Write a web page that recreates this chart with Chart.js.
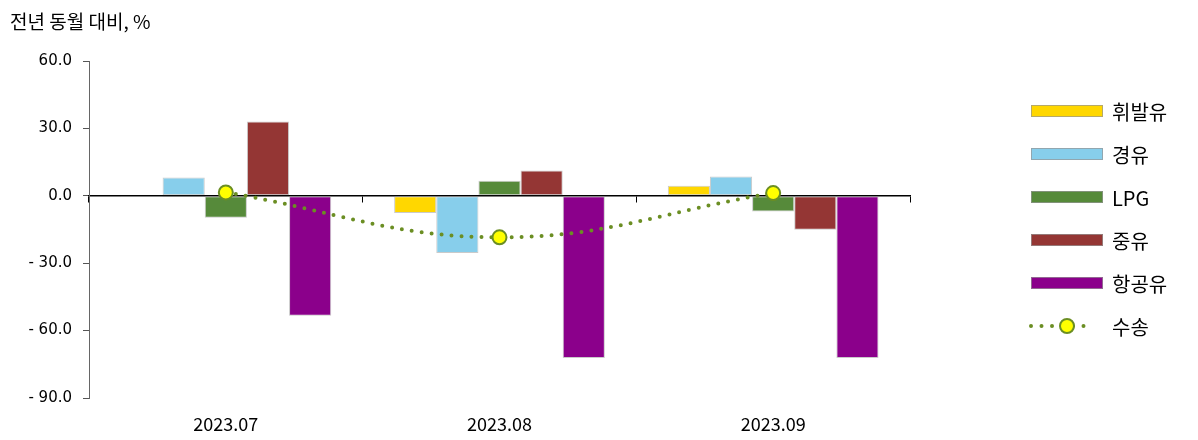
<!DOCTYPE html>
<html>
<head>
<meta charset="utf-8">
<script src="https://cdn.jsdelivr.net/npm/chart.js@4"></script>
<style>
  html, body { margin: 0; padding: 0; background: #fff; }
  #wrap { position: relative; width: 1198px; height: 440px; }
</style>
</head>
<body>
<div id="wrap"><canvas id="chart" width="1198" height="440"></canvas></div>
<script>
  const categories = ['2023.07', '2023.08', '2023.09'];
  const gasoline = [-0.5, -7.7, 4.5];
  const diesel = [8.2, -25.5, 8.6];
  const lpg = [-9.8, 6.7, -7.0];
  const heavyOil = [33.1, 11.3, -15.1];
  const jetFuel = [-53.4, -72.2, -72.2];
  const transport = [1.5, -18.5, 1.2];
  const yTicks = [60, 30, 0, -30, -60, -90];

  const titleText = '전년 동월 대비, %';
  const fontFamily = '"Noto Sans CJK KR", "Noto Sans", sans-serif';
  const numFont = '"DejaVu Sans", sans-serif';
  const lineColor = '#6b8e23';

  function barSet(label, data, color) {
    return {
      type: 'bar',
      label,
      data,
      backgroundColor: color,
      borderColor: 'rgba(150, 150, 150, 0.5)',
      borderWidth: 1,
      borderSkipped: false,
      categoryPercentage: 0.77,
      barPercentage: 1,
      order: 1,
    };
  }

  const datasets = [
    barSet('휘발유', gasoline, '#ffd700'),
    barSet('경유', diesel, '#87ceeb'),
    barSet('LPG', lpg, '#568a3a'),
    barSet('중유', heavyOil, '#943634'),
    barSet('항공유', jetFuel, '#8b008b'),
    {
      type: 'line',
      label: '수송',
      data: transport,
      borderColor: lineColor,
      borderWidth: 4,
      borderDash: [0, 10],
      borderCapStyle: 'round',
      tension: 0.4,
      pointRadius: 7,
      pointBackgroundColor: '#ffff00',
      pointBorderColor: lineColor,
      pointBorderWidth: 2,
      order: 0,
    },
  ];

  // title and legend drawn straight onto the canvas
  const sidePlugin = {
    id: 'sideLegend',
    afterDraw(chart) {
      const ctx = chart.ctx;
      ctx.save();
      ctx.fillStyle = '#000';
      ctx.font = '19px ' + fontFamily;
      ctx.textBaseline = 'middle';
      ctx.textAlign = 'left';
      ctx.fillText(titleText, 10, 22);

      chart.data.datasets.forEach((ds, i) => {
        const cy = 111 + i * 43;
        if (ds.type === 'bar') {
          ctx.fillStyle = ds.backgroundColor;
          ctx.fillRect(1031, cy - 6, 72, 12);
          ctx.strokeStyle = 'rgba(150, 150, 150, 0.7)';
          ctx.lineWidth = 1;
          ctx.strokeRect(1031.5, cy - 5.5, 71, 11);
        } else {
          ctx.strokeStyle = ds.borderColor;
          ctx.lineWidth = ds.borderWidth;
          ctx.lineCap = 'round';
          ctx.setLineDash([0, 10.5]);
          ctx.beginPath();
          ctx.moveTo(1031, cy);
          ctx.lineTo(1094, cy);
          ctx.stroke();
          ctx.setLineDash([]);
          ctx.beginPath();
          ctx.arc(1067, cy, 7, 0, Math.PI * 2);
          ctx.fillStyle = ds.pointBackgroundColor;
          ctx.fill();
          ctx.lineWidth = 2;
          ctx.stroke();
        }
        ctx.fillStyle = '#000';
        ctx.font = '20px ' + fontFamily;
        ctx.fillText(ds.label, 1112, cy + 1);
      });
      ctx.restore();
    },
  };

  new Chart(document.getElementById('chart'), {
    data: { labels: categories, datasets },
    options: {
      responsive: false,
      animation: false,
      layout: { padding: { top: 61, right: 288, left: 0, bottom: 0 } },
      plugins: {
        legend: { display: false },
        tooltip: { enabled: false },
      },
      scales: {
        x: {
          type: 'category',
          position: { y: 0 },
          offset: true,
          ticks: { display: false },
          grid: {
            offset: true,
            drawOnChartArea: false,
            drawTicks: true,
            tickLength: 6,
            tickColor: '#000',
            color: '#000',
          },
          border: { display: true, color: '#000', width: 1.5 },
        },
        x2: {
          type: 'category',
          position: 'bottom',
          labels: categories,
          offset: true,
          grid: { display: false, drawTicks: false },
          border: { display: false },
          ticks: {
            color: '#000',
            padding: 15,
            maxRotation: 0,
            font: { family: fontFamily, size: 18 },
          },
          afterFit(scale) { scale.height = 42; },
        },
        y: {
          min: -90,
          max: 60,
          afterBuildTicks(scale) {
            scale.ticks = yTicks.map((v) => ({ value: v }));
          },
          ticks: {
            color: '#000',
            padding: 11,
            font: { family: numFont, size: 15 },
            callback: (v) => (v < 0 ? '- ' + Math.abs(v).toFixed(1) : v.toFixed(1)),
          },
          grid: {
            drawOnChartArea: false,
            drawTicks: true,
            tickLength: 6,
            tickColor: '#555',
          },
          border: { display: true, color: '#666', width: 1 },
          afterFit(scale) { scale.width = 89; },
        },
      },
    },
    plugins: [sidePlugin],
  });
</script>
</body>
</html>
